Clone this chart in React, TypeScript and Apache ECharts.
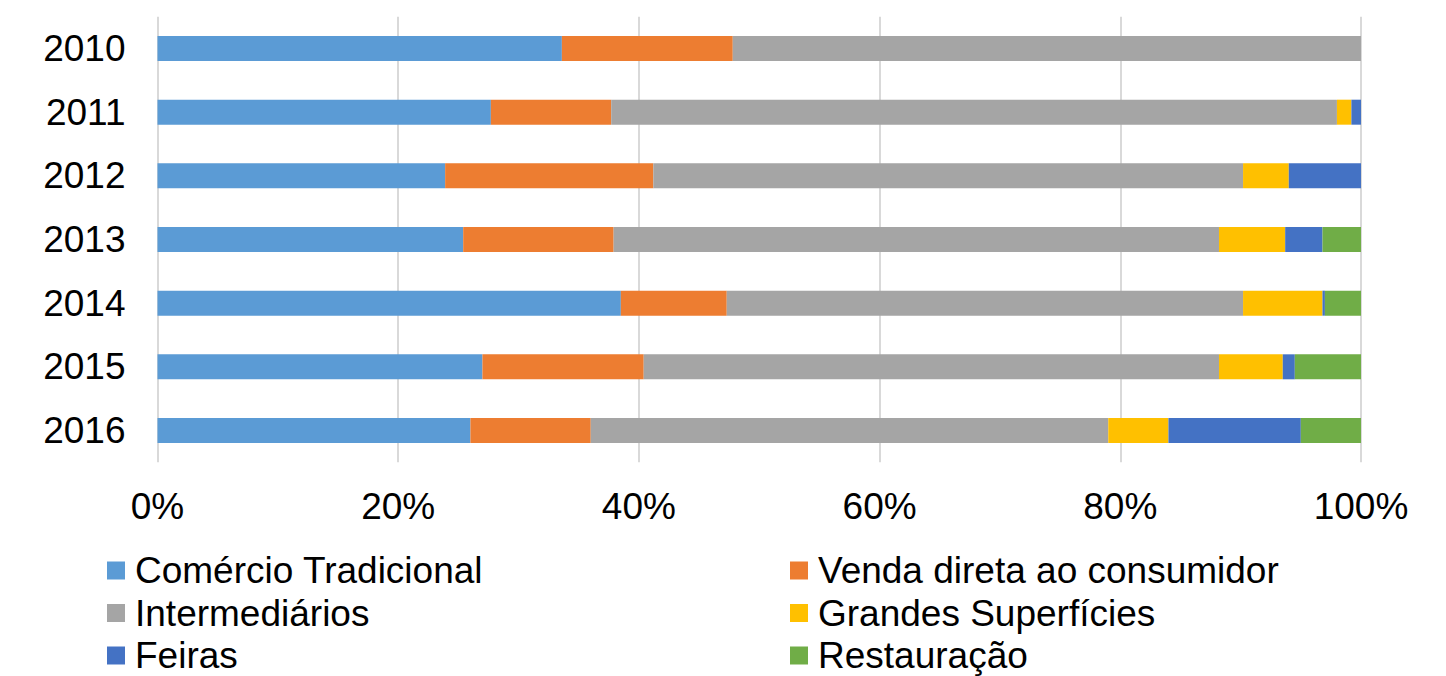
import React, { useEffect, useRef } from "react";
import * as echarts from "echarts";

const years = ["2010", "2011", "2012", "2013", "2014", "2015", "2016"];
const comercioTradicional = [33.6, 27.7, 23.9, 25.4, 38.5, 27.0, 26.0];
const vendaDireta = [14.2, 10.0, 17.3, 12.5, 8.8, 13.4, 10.0];
const intermediarios = [52.2, 60.3, 49.0, 50.3, 42.9, 47.8, 43.0];
const grandesSuperficies = [0, 1.2, 3.8, 5.5, 6.6, 5.3, 5.0];
const feiras = [0, 0.8, 6.0, 3.1, 0.2, 1.0, 11.0];
const restauracao = [0, 0, 0, 3.2, 3.0, 5.5, 5.0];
const xTicks = [0, 20, 40, 60, 80, 100];

const seriesDefs = [
  { name: "Comércio Tradicional", data: comercioTradicional, color: "#5B9BD5" },
  { name: "Venda direta ao consumidor", data: vendaDireta, color: "#ED7D31" },
  { name: "Intermediários", data: intermediarios, color: "#A5A5A5" },
  { name: "Grandes Superfícies", data: grandesSuperficies, color: "#FFC000" },
  { name: "Feiras", data: feiras, color: "#4472C4" },
  { name: "Restauração", data: restauracao, color: "#70AD47" },
];

const FONT = "'Liberation Sans', Arial, sans-serif";

export default function App() {
  const ref = useRef<HTMLDivElement>(null);
  useEffect(() => {
    if (!ref.current) return;
    const chart = echarts.init(ref.current, undefined, { renderer: "svg" });
    const legendCommon = {
      orient: "vertical" as const,
      top: 552,
      padding: 0,
      itemWidth: 18,
      itemHeight: 18,
      itemGap: 5.5,
      icon: "rect",
      selectedMode: false,
      textStyle: { fontSize: 37, lineHeight: 37, color: "#000", fontFamily: FONT, padding: [0, 0, 0, 5] },
    };
    chart.setOption({
      animation: false,
      textStyle: { fontFamily: FONT },
      grid: { left: 157.5, right: 85, top: 16.7, bottom: 213.7, containLabel: false },
      legend: [
        { ...legendCommon, left: 107, data: ["Comércio Tradicional", "Intermediários", "Feiras"] },
        { ...legendCommon, left: 790, data: ["Venda direta ao consumidor", "Grandes Superfícies", "Restauração"] },
      ],
      xAxis: {
        type: "value",
        min: xTicks[0],
        max: xTicks[xTicks.length - 1],
        interval: 20,
        axisLine: { show: false },
        axisTick: { show: false },
        splitLine: { show: true, lineStyle: { color: "#d9d9d9", width: 2 } },
        axisLabel: { formatter: "{value}%", fontSize: 37, color: "#000", fontFamily: FONT, margin: 26 },
      },
      yAxis: {
        type: "category",
        data: years,
        inverse: true,
        axisLine: { show: false },
        axisTick: { show: false },
        axisLabel: { fontSize: 37, color: "#000", fontFamily: FONT, margin: 32 },
      },
      series: seriesDefs.map((s) => ({
        name: s.name,
        type: "bar",
        stack: "total",
        barWidth: 25,
        data: s.data,
        itemStyle: { color: s.color },
      })),
    });
    return () => chart.dispose();
  }, []);
  return (
    <div
      ref={ref}
      style={{ position: "fixed", left: 0, top: 0, width: 1446, height: 676, background: "#fff" }}
    />
  );
}
